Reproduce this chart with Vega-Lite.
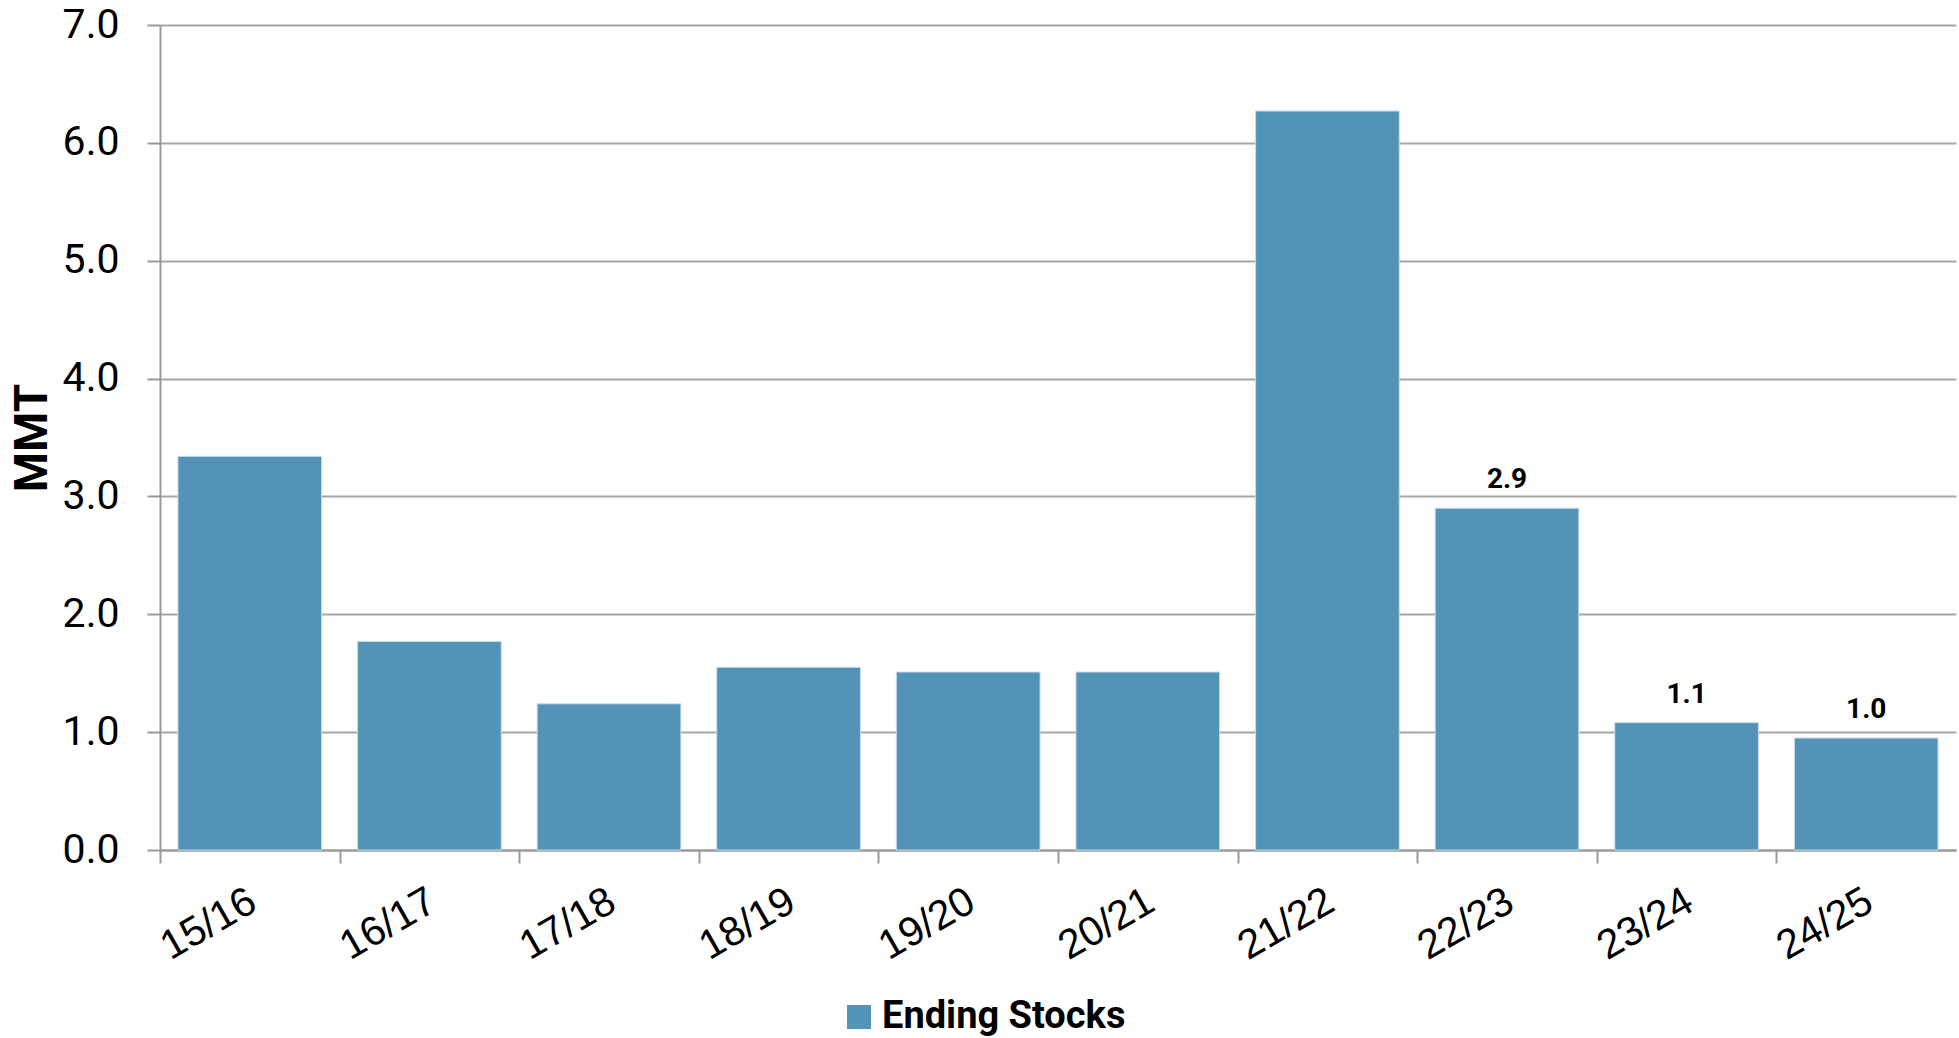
{
  "$schema": "https://vega.github.io/schema/vega-lite/v6.json",
  "width": 1796,
  "height": 825,
  "autosize": {"type": "none"},
  "padding": {"left": 160, "top": 25, "right": 3, "bottom": 188},
  "background": "white",
  "data": {
    "values": [
      {"year": "15/16", "value": 3.34, "label": ""},
      {"year": "16/17", "value": 1.77, "label": ""},
      {"year": "17/18", "value": 1.24, "label": ""},
      {"year": "18/19", "value": 1.55, "label": ""},
      {"year": "19/20", "value": 1.51, "label": ""},
      {"year": "20/21", "value": 1.51, "label": ""},
      {"year": "21/22", "value": 6.27, "label": ""},
      {"year": "22/23", "value": 2.9, "label": "2.9"},
      {"year": "23/24", "value": 1.08, "label": "1.1"},
      {"year": "24/25", "value": 0.95, "label": "1.0"}
    ]
  },
  "encoding": {
    "x": {
      "field": "year",
      "type": "nominal",
      "sort": null,
      "scale": {"paddingInner": 0.2, "paddingOuter": 0.1},
      "axis": {
        "title": null,
        "labelAngle": -30,
        "labelFont": "Liberation Sans",
        "labelFontSize": 41,
        "labelColor": "black",
        "labelPadding": 18,
        "labelOffset": 82.8,
        "tickOffset": -89.8,
        "tickSize": 13,
        "tickColor": "#999999",
        "tickWidth": 2,
        "domainColor": "#999999",
        "domainWidth": 2,
        "grid": false
      }
    },
    "y": {
      "field": "value",
      "type": "quantitative",
      "scale": {"domain": [0, 7], "nice": false},
      "axis": {
        "title": "MMT",
        "titleFont": "Roboto",
        "titleFontWeight": "bold",
        "titleFontSize": 46,
        "titleColor": "black",
        "titlePadding": 6,
        "values": [0, 1, 2, 3, 4, 5, 6, 7],
        "format": ".1f",
        "labelFont": "Roboto",
        "labelFontSize": 41,
        "labelColor": "black",
        "labelPadding": 28,
        "tickSize": 13,
        "tickColor": "#999999",
        "tickWidth": 2,
        "domainColor": "#999999",
        "domainWidth": 2,
        "gridColor": "#a6a6a6",
        "gridWidth": 2
      }
    }
  },
  "layer": [
    {
      "mark": {"type": "bar", "stroke": "#c4dcea", "strokeWidth": 1},
      "encoding": {
        "color": {
          "datum": "Ending Stocks",
          "type": "nominal",
          "scale": {"range": ["#5393B8"]},
          "legend": {
            "title": null,
            "orient": "none",
            "legendX": 680,
            "legendY": 973,
            "symbolType": "square",
            "symbolSize": 576,
            "symbolStrokeWidth": 0,
            "labelFont": "Roboto",
            "labelFontWeight": "bold",
            "labelFontSize": 38,
            "labelColor": "black",
            "labelOffset": 4,
            "labelLimit": 500,
            "padding": 0
          }
        }
      }
    },
    {
      "mark": {
        "type": "text",
        "font": "Roboto",
        "fontWeight": "bold",
        "fontSize": 28,
        "color": "black",
        "baseline": "alphabetic",
        "dy": -20
      },
      "encoding": {
        "text": {"field": "label"}
      }
    }
  ],
  "config": {"view": {"stroke": null}}
}
